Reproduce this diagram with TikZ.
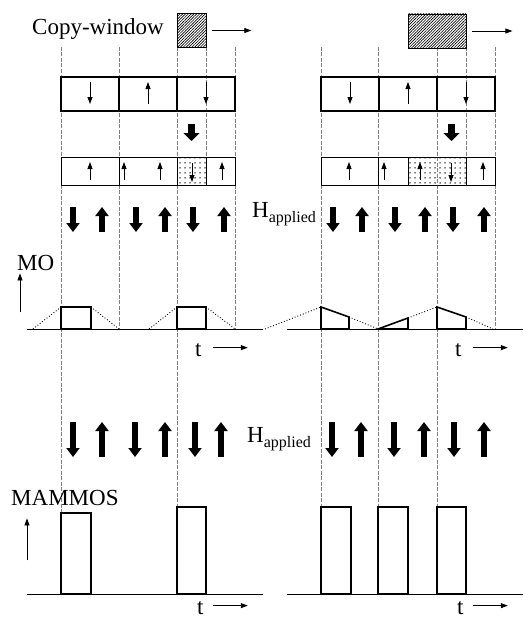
\documentclass[tikz,border=0pt]{standalone}
\usepackage{fontspec}
\setmainfont{Liberation Serif}
\usetikzlibrary{arrows.meta,patterns.meta}

\tikzset{
  guia/.style={gray, line width=0.5pt, dash pattern=on 4pt off 1.5pt},
  flecha/.style={-{Triangle[length=7pt,width=5pt]}, line width=0.8pt},
  campo/.style={-{Triangle[length=9pt,width=13pt]}, line width=5.5pt},
  celda/.style={line width=1.3pt},
  pulso/.style={line width=1.6pt},
  rampa/.style={dotted, line width=0.9pt},
  rotulo/.style={font=\fontsize{23}{27}\selectfont, inner sep=0pt},
  ventana/.style={draw, line width=0.8pt, inner sep=0pt, minimum height=34pt,
    pattern={Lines[angle=45,distance=2pt,line width=0.65pt]}},
  puntos/.style={pattern={Dots[radius=0.75pt,distance=5pt]}},
}

\begin{document}
\begin{tikzpicture}[x=1pt, y=-1pt]
    \useasboundingbox (0,0) rectangle (523,618);

    % lineas guia
    \foreach \x/\yb in {61/513, 119/329, 177/507, 235/329, 206/157,
                        321/507, 378/507, 437/507, 495/329, 466/157}
        \draw[guia] (\x,47) -- (\x,\yb);

    % ventana de copia
    \node[rotulo, anchor=base west] (copia) at (32,35) {Copy-window};
    \node[ventana, minimum width=29pt] (ventanaA) at (191.5,30.5) {};
    \node[ventana, minimum width=58pt] (ventanaB) at (437,31) {};
    \draw[flecha] ([xshift=6pt]ventanaA.east) -- ++(39,0);
    \draw[flecha] ([xshift=6pt]ventanaB.east) -- ++(40,0);

    % capa de memoria
    \foreach \xa in {61,321} {
        \draw[celda] (\xa,77) rectangle ++(174,34);
        \draw[celda] (\xa+58,77) -- ++(0,34);
        \draw[celda] (\xa+116,77) -- ++(0,34);
        \draw[flecha] (\xa+29,82) -- ++(0,22);
        \draw[flecha] (\xa+87,104) -- ++(0,-22);
        \draw[flecha] (\xa+145,82) -- ++(0,22);
        \draw[-{Triangle[length=8pt,width=16pt]}, line width=7pt] (\xa+130.5,124) -- ++(0,17);
    }

    % capa de lectura (izquierda)
    \fill[puntos] (177,157) rectangle (206,185);
    \draw[line width=1pt] (61,157) rectangle (235,185);
    \foreach \x in {119,177,206}
        \draw[line width=0.8pt] (\x,157) -- (\x,185);
    \foreach \x in {90,124,160,222}
        \draw[flecha] (\x,180) -- (\x,162);
    \draw[flecha] (192,163) -- (192,182);

    % capa de lectura (derecha)
    \fill[puntos] (408,157) rectangle (466,185);
    \draw[line width=1pt] (321,157) rectangle (495,185);
    \foreach \x in {378,408,466}
        \draw[line width=0.8pt] (\x,157) -- (\x,185);
    \foreach \x in {349,384,420,483}
        \draw[flecha] (\x,180) -- (\x,162);
    \draw[flecha] (451,163) -- (451,182);

    % campo aplicado (MO)
    \foreach \x in {73,136,193,333,395,453}
        \draw[campo] (\x,207) -- (\x,232);
    \foreach \x in {102,165,224,362,425,484}
        \draw[campo] (\x,232) -- (\x,207);
    \node[rotulo, anchor=base west] (campoMO) at (252,217)
        {H\raisebox{-5pt}{\fontsize{16}{17}\selectfont applied}};

    % senal MO
    \node[rotulo, anchor=base west] (mo) at (17,270) {MO};
    \draw[flecha] ([xshift=3pt,yshift=-42pt]mo.south west) -- ([xshift=3pt,yshift=-3pt]mo.south west);
    \draw[line width=0.9pt] (27,329) -- (263,329);
    \draw[line width=0.9pt] (287,329) -- (523,329);
    \draw[rampa] (33,329) -- (61,307) (91,307) -- (119,329);
    \draw[rampa] (149,329) -- (177,307) (206,307) -- (235,329);
    \draw[pulso] (61,307) rectangle (91,329);
    \draw[pulso] (177,307) rectangle (206,329);
    \draw[rampa] (265,329) -- (321,307) (349,317) -- (378,329)
                 (408,318) -- (437,307) (466,317) -- (493,329);
    \draw[pulso] (321,329) -- (321,307) -- (349,317) -- (349,329) -- cycle;
    \draw[pulso] (378,329) -- (408,318) -- (408,329) -- cycle;
    \draw[pulso] (437,329) -- (437,307) -- (466,317) -- (466,329) -- cycle;
    \node[rotulo, anchor=base west] (tmoA) at (195,356) {t};
    \node[rotulo, anchor=base west] (tmoB) at (455,356) {t};
    \draw[flecha] ([xshift=11pt,yshift=2pt]tmoA.east) -- ++(35,0);
    \draw[flecha] ([xshift=11pt,yshift=2pt]tmoB.east) -- ++(35,0);

    % campo aplicado (MAMMOS)
    \foreach \x in {73,135,195,332,394,454}
        \draw[campo] (\x,422) -- (\x,457);
    \foreach \x in {102,165,221,361,424,484}
        \draw[campo] (\x,457) -- (\x,422);
    \node[rotulo, anchor=base west] (campoMA) at (247,442)
        {H\raisebox{-5pt}{\fontsize{16}{17}\selectfont applied}};

    % senal MAMMOS
    \node[rotulo, anchor=base west] (mammos) at (11,505) {MAMMOS};
    \draw[flecha] ([xshift=16pt,yshift=-55pt]mammos.south west) -- ([xshift=16pt,yshift=-13pt]mammos.south west);
    \draw[line width=0.9pt] (27,594) -- (263,594);
    \draw[line width=0.9pt] (287,594) -- (523,594);
    \foreach \xa/\xb/\ya in {61/91/513, 177/206/507, 321/351/507, 378/408/507, 437/466/507}
        \draw[pulso] (\xa,\ya) rectangle (\xb,594);
    \node[rotulo, anchor=base west] (tmaA) at (197,614) {t};
    \node[rotulo, anchor=base west] (tmaB) at (457,614) {t};
    \draw[flecha] ([xshift=9pt,yshift=2pt]tmaA.east) -- ++(35,0);
    \draw[flecha] ([xshift=9pt,yshift=2pt]tmaB.east) -- ++(35,0);
\end{tikzpicture}
\end{document}
